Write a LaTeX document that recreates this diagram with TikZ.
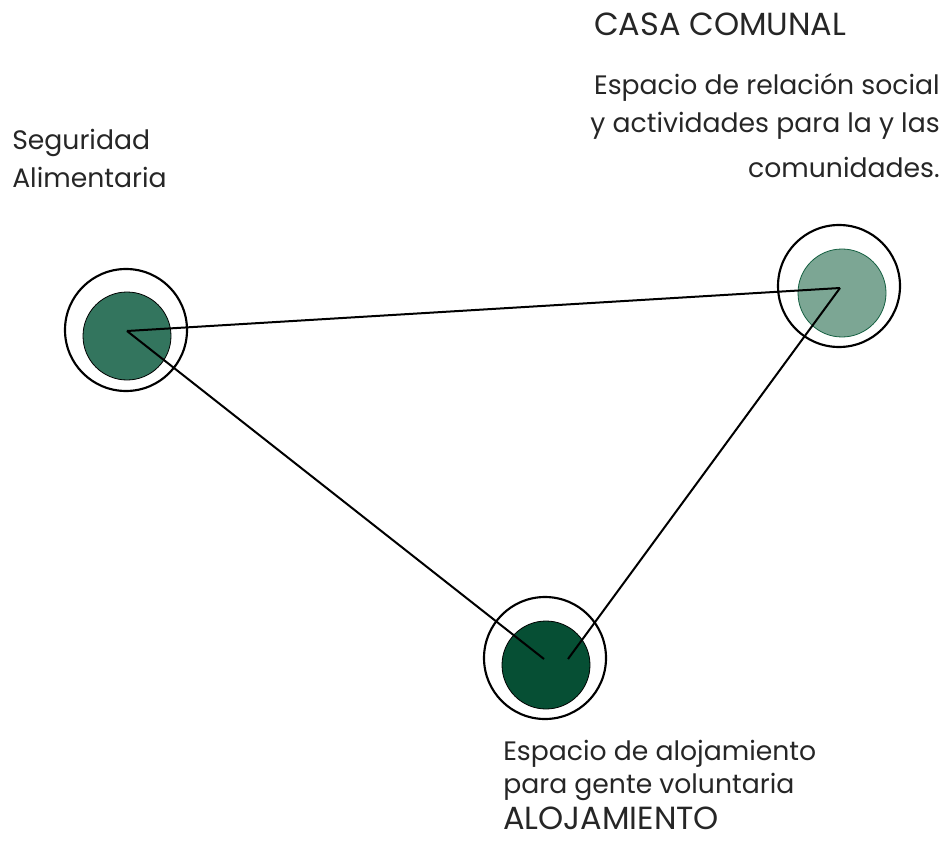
\documentclass[tikz,border=0pt]{standalone}
\usepackage{fontspec}
\setmainfont{Poppins}
\usetikzlibrary{positioning}
\definecolor{verdeA}{RGB}{51,117,94}
\definecolor{verdeB}{RGB}{124,166,148}
\definecolor{verdeC}{RGB}{6,79,52}
\definecolor{bordeB}{RGB}{20,95,65}
\tikzset{
  anillo/.style={circle,draw=black,line width=1.6pt,minimum size=91.5pt,inner sep=0},
  nucleo/.style={circle,draw=black,line width=0.6pt,minimum size=66pt,inner sep=0},
  lado/.style={line width=1.5pt},
  texto/.style={inner sep=0,text=black!85,font=\fontsize{20pt}{24pt}\selectfont},
  titulo/.style={inner sep=0,text=black!85,font=\fontsize{24pt}{28pt}\selectfont}
}
\begin{document}
\begin{tikzpicture}[x=0.75pt,y=-0.75pt]
\useasboundingbox (0,0) rectangle (948,841);

				    % Place nodes
				    \node [anillo] (seg) at (126,330) {};
				    \node [nucleo,fill=verdeA] (segin) at (127,336) {};
				    \node [anillo] (casa) at (839,286) {};
				    \node [nucleo,fill=verdeB,draw=bordeB] (casain) at (842,293) {};
				    \node [anillo] (aloj) at (545,658) {};
				    \node [nucleo,fill=verdeC] (alojin) at (546,665) {};

				    \coordinate (p1) at (127,331);
				    \coordinate (p2) at (840,288);
				    \coordinate (p3) at (544,659);
				    \coordinate (p4) at (568,659);

				    \draw [lado] (p1)--(p2);
				    \draw [lado] (p1)--(p3);
				    \draw [lado] (p2)--(p4);

				    % Texts
				    \node [texto,anchor=base west] (segtxt) at (12,150) {Seguridad};
				    \node [texto,anchor=base west] (segtxtb) at (12,188) {Alimentaria};

				    \node [titulo,anchor=base west] (casatit) at (594,36) {CASA COMUNAL};
				    \node [texto,anchor=base east] (casatxt) at (940,95) {Espacio de relación social};
				    \node [texto,anchor=base east] (casatxtb) at (940,133) {y actividades para la y las};
				    \node [texto,anchor=base east] (casatxtc) at (940,178) {comunidades.};

				    \node [texto,anchor=base west] (alojtxt) at (503,760) {Espacio de alojamiento};
				    \node [texto,anchor=base west] (alojtxtb) at (503,793) {para gente voluntaria};
				    \node [titulo,anchor=base west] (alojtit) at (503,829) {ALOJAMIENTO};
				\end{tikzpicture}
\end{document}
